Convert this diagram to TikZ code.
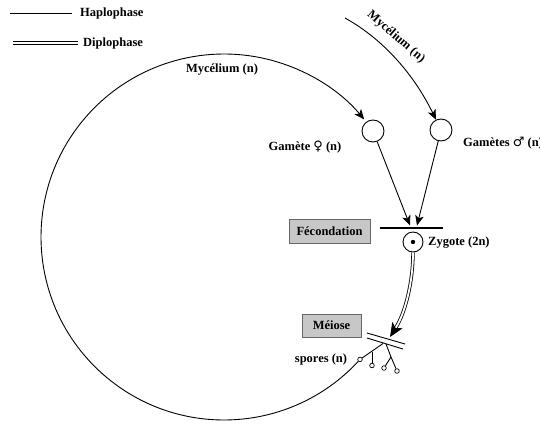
\documentclass[tikz,border=0pt]{standalone}
\usepackage{fontspec}
\setmainfont{Liberation Serif}
\newfontfamily\symfont{DejaVu Sans}
\usetikzlibrary{arrows.meta,calc}
\begin{document}
\begin{tikzpicture}[x=1pt,y=1pt,
  lbl/.style={font=\fontsize{12.5}{14}\selectfont\bfseries, inner sep=0pt},
  gam/.style={circle,draw,line width=0.9pt,minimum size=22pt,inner sep=0pt},
  stagebox/.style={draw=black!60,fill=black!22,line width=0.9pt,inner sep=0pt,
    font=\fontsize{12.5}{14}\selectfont\bfseries},
  ln/.style={line width=0.9pt},
  arr/.style={ln,-{Stealth[length=10pt,width=8.5pt,inset=2.5pt]}},
  spore/.style={circle,draw,line width=0.7pt,minimum size=4.6pt,inner sep=0pt},
  dbl/.style={line width=0.8pt,double,double distance=1.8pt}
]
\useasboundingbox (0,0) rectangle (540,423);

% legend
\coordinate (h1) at (10,410); \coordinate (h2) at (72,410);
\draw[ln] (h1) -- (h2);
\node[lbl,anchor=west] (hap) at (80,410) {Haplophase};
\coordinate (d1) at (13,380); \coordinate (d2) at (78,380);
\draw[dbl] (d1) -- (d2);
\node[lbl,anchor=west] (dip) at (83,380) {Diplophase};

% big cycle
\coordinate (c) at (224,186);
\node[spore] (s1) at ($(c)+(-42:183)$) {};
\node[gam] (fem) at (373,292) {};
\node[gam] (male) at (441,293) {};
\draw[arr] ($(c)+(-42.8:183)$) arc[start angle=-42.8, end angle=-320, radius=183];
\node[lbl] (myc1) at (222,353) {Mycélium (n)};

% second mycelium
\coordinate (m0) at (345,405);
\draw[arr] (m0) .. controls (385.7,382.4) and (415.4,345.7) .. (male);
\node[lbl,rotate=-41] (myc2) at (396,386) {Mycélium (n)};

\node[lbl] (fl) at (305,276) {Gamète {\symfont\mdseries\fontsize{13}{14}\selectfont ♀} (n)};
\node[lbl,anchor=west] (ml) at (463,280) {Gamètes {\symfont\mdseries\fontsize{13}{14}\selectfont ♂} (n)};

% fecondation
\coordinate (b1) at (380,195); \coordinate (b2) at (443,195);
\draw[line width=2.8pt] (b1) -- (b2);
\coordinate (t1) at (410,197.5); \coordinate (t2) at (417,197.5);
\draw[arr] (fem) -- (t1);
\draw[arr] (male) -- (t2);
\node[stagebox,minimum width=81pt,minimum height=24pt] (fec) at (329.5,192) {Fécondation};
\node[circle,draw,ln,minimum size=20pt,inner sep=0pt] (zyg) at (413,181) {};
\fill (zyg.center) circle (2.2);
\node[lbl,anchor=west] (zl) at (428,180) {Zygote (2n)};

% meiosis
\coordinate (mt) at (390,86);
\draw[line width=1pt,-{Stealth[length=14pt,width=12pt,inset=3.5pt]}] (zyg) .. controls (413,140) and (405,110) .. (mt);
\draw[dbl,shorten >=11pt] (zyg) .. controls (413,140) and (405,110) .. (mt);
\node[stagebox,minimum width=59pt,minimum height=23pt] (mei) at (331.5,97.5) {Méiose};
\coordinate (k1) at (367,90); \coordinate (k2) at (405,79);
\coordinate (k3) at (367,85); \coordinate (k4) at (403,74);
\draw[ln] (k1) -- (k2);
\draw[ln] (k3) -- (k4);

% spores
\coordinate (p0) at (383,79.5);
\coordinate (pb) at (372,71);
\node[spore] (s2) at (372,57.5) {};
\coordinate (q0) at (386,79);
\coordinate (q1) at (391,66);
\node[spore] (s3) at (384,55) {};
\node[spore] (s4) at (397,52) {};
\draw[ln] (p0) -- (s1);
\draw[ln] (pb) -- (s2);
\draw[ln] (q0) -- (q1) -- (s4);
\draw[ln] (q1) -- (s3);
\node[lbl] (sp) at (321,64) {spores (n)};
\end{tikzpicture}
\end{document}
